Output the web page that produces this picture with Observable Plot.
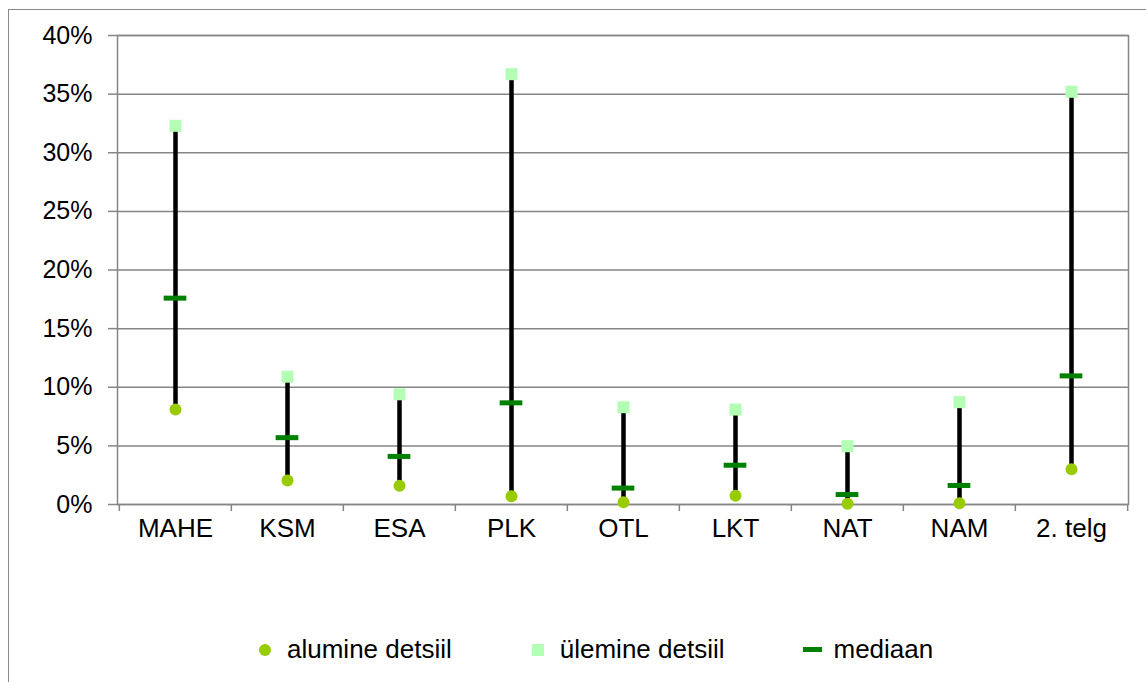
<!DOCTYPE html>
<html>
<head>
<meta charset="utf-8">
<script src="https://cdn.jsdelivr.net/npm/d3@7"></script>
<script src="https://cdn.jsdelivr.net/npm/@observablehq/plot@0.6"></script>
<style>
  html, body { margin: 0; padding: 0; background: #fff; overflow: hidden; }
  body { width: 1146px; height: 682px; position: relative; font-family: "Liberation Sans", Arial, sans-serif; }
  #frame { position: absolute; left: 8px; top: 9px; width: 1200px; height: 800px; border-left: 1.5px solid #8a8a8a; border-top: 1.5px solid #8a8a8a; }
  #chart { position: absolute; left: 0; top: 0; }
  #legend { position: absolute; left: 259px; top: 634px; display: flex; align-items: center; font-size: 26px; color: #000; }
  .item { display: flex; align-items: center; }
  .sw { display: inline-block; }
</style>
</head>
<body>
<div id="frame"></div>
<div id="chart"></div>
<div id="legend">
  <div class="item"><span class="sw" style="width:12px;height:12px;border-radius:50%;background:#99cc00;margin-right:16px"></span><span>alumine detsiil</span></div>
  <div class="item" style="margin-left:80px"><span class="sw" style="width:12px;height:12px;background:#b3ffb3;margin-right:16px"></span><span>ülemine detsiil</span></div>
  <div class="item" style="margin-left:78px"><span class="sw" style="width:19px;height:5px;background:#008000;margin-right:12px"></span><span>mediaan</span></div>
</div>
<script>
const categories = ["MAHE", "KSM", "ESA", "PLK", "OTL", "LKT", "NAT", "NAM", "2. telg"];
const lowerDecile = [8.1, 2.05, 1.6, 0.7, 0.2, 0.74, 0.06, 0.11, 3.0];
const upperDecile = [32.3, 10.9, 9.4, 36.7, 8.3, 8.1, 4.97, 8.73, 35.2];
const median = [17.6, 5.7, 4.1, 8.67, 1.4, 3.35, 0.85, 1.62, 10.97];
const yTicks = [0, 5, 10, 15, 20, 25, 30, 35, 40];

const data = categories.map((c, i) => ({cat: c, lo: lowerDecile[i], hi: upperDecile[i], med: median[i]}));

const W = 1146, H = 545, mL = 117, mR = 18, mT = 35, mB = 41;
const bw = (W - mL - mR) / categories.length;
const gray = "#868686";

const chart = Plot.plot({
  width: W,
  height: H,
  marginLeft: mL,
  marginRight: mR,
  marginTop: mT,
  marginBottom: mB,
  style: {fontFamily: "'Liberation Sans', Arial, sans-serif", background: "transparent", color: "#000", overflow: "visible"},
  x: {type: "band", domain: categories, padding: 0, label: null},
  y: {domain: [0, 40], label: null},
  marks: [
    Plot.gridY(yTicks, {stroke: gray, strokeOpacity: 1, strokeWidth: 1.5}),
    Plot.frame({stroke: gray, strokeWidth: 1.5}),
    Plot.axisY({ticks: yTicks, tickFormat: d => d + "%", tickSize: 9, tickPadding: 16, fontSize: 25, stroke: gray, strokeWidth: 1.5, fill: "#000", label: null}),
    Plot.axisX({tickSize: 0, tickPadding: 14, fontSize: 26, fill: "#000", label: null}),
    Plot.axisX({tickSize: 7, tickFormat: () => "", dx: -bw / 2, stroke: gray, strokeWidth: 1.5, label: null}),
    Plot.axisX({ticks: [categories[categories.length - 1]], tickSize: 7, tickFormat: () => "", dx: bw / 2, stroke: gray, strokeWidth: 1.5, label: null}),
    Plot.ruleX(data, {x: "cat", y1: "lo", y2: "hi", stroke: "#000", strokeWidth: 4.5}),
    Plot.dot(data, {x: "cat", y: "hi", symbol: "square", r: 6.8, fill: "#b3ffb3", stroke: null}),
    Plot.tickY(data, {x: "cat", y: "med", stroke: "#008000", strokeWidth: 5, insetLeft: (bw - 23) / 2, insetRight: (bw - 23) / 2}),
    Plot.dot(data, {x: "cat", y: "lo", symbol: "circle", r: 6, fill: "#99cc00", stroke: null})
  ]
});
document.getElementById("chart").appendChild(chart);
</script>
</body>
</html>
